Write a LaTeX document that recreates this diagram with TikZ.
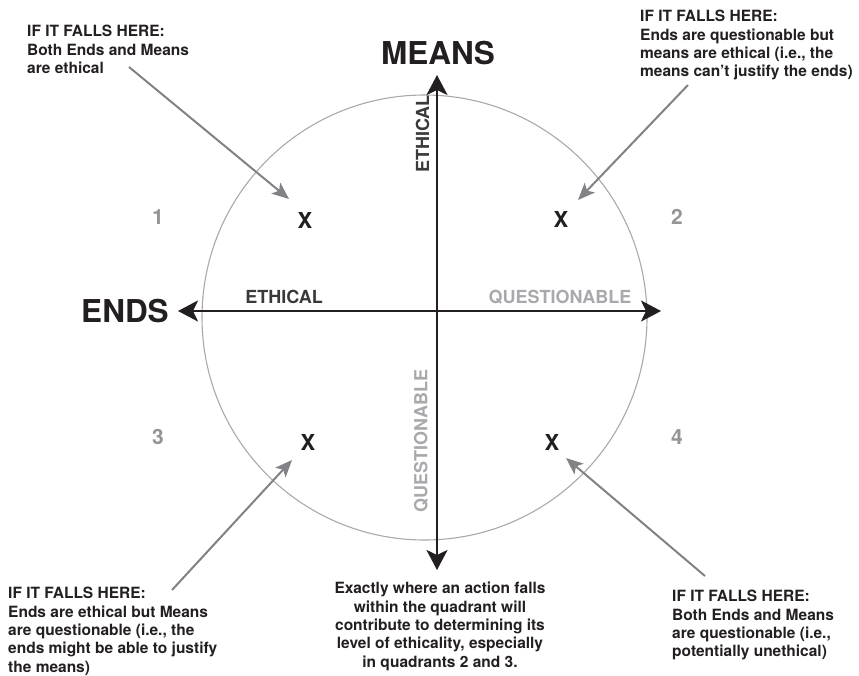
\documentclass[tikz,border=0pt]{standalone}
\usepackage{fontspec}
\setmainfont{TeX Gyre Heros}
\usetikzlibrary{arrows.meta}
\definecolor{ink}{HTML}{231F20}
\definecolor{darklab}{HTML}{3A3A3A}
\definecolor{lightlab}{HTML}{A7A9AC}
\definecolor{numgray}{HTML}{939598}
\definecolor{pointer}{HTML}{808285}
\definecolor{ring}{HTML}{A7A9AC}
\begin{document}
\begin{tikzpicture}[x=1pt,y=-1pt,
  note/.style={inner sep=0pt, text=ink, align=left, anchor=north west,
    font=\fontsize{15.5}{18.4}\selectfont\bfseries},
  axislab/.style={inner sep=0pt, font=\fontsize{18}{18}\selectfont\bfseries},
  biglab/.style={inner sep=0pt, text=ink, font=\fontsize{31.5}{31.5}\selectfont\bfseries},
  qnum/.style={inner sep=0pt, text=numgray, font=\fontsize{21}{21}\selectfont\bfseries},
  xmark/.style={inner sep=0pt, text=ink, font=\fontsize{22}{22}\selectfont\bfseries},
  axis/.style={line width=2.4pt, draw=ink, {Stealth[length=20pt,width=21pt,inset=5pt]}-{Stealth[length=20pt,width=21pt,inset=5pt]}},
  pointarrow/.style={line width=2pt, draw=pointer, -{Stealth[length=17pt,width=14pt,inset=4pt]}}]
\useasboundingbox (0,0) rectangle (859,675);
% circle
\draw[ring, line width=1.1pt] (424.5,317.5) circle (222.5);
% axes
\coordinate (top) at (437,75);
\coordinate (bot) at (437,570);
\coordinate (lft) at (178,311);
\coordinate (rgt) at (661,311);
\draw[axis] (bot) -- (top);
\draw[axis] (lft) -- (rgt);
% big labels
\node[biglab] (means) at (438,53) {MEANS};
\node[biglab] (ends) at (125,311.5) {ENDS};
% axis labels
\node[axislab, text=darklab] (eh) at (284,297) {ETHICAL};
\node[axislab, text=lightlab] (qh) at (560,297) {QUESTIONABLE};
\node[axislab, text=darklab, rotate=90] (ev) at (422.5,134) {ETHICAL};
\node[axislab, text=lightlab, rotate=90] (qv) at (421,441) {QUESTIONABLE};
% quadrant numbers
\node[qnum] (n1) at (158,217) {1};
\node[qnum] (n2) at (677,217) {2};
\node[qnum] (n3) at (158,437) {3};
\node[qnum] (n4) at (677,437) {4};
% X marks
\node[xmark] (x1) at (305,220) {X};
\node[xmark] (x2) at (561,219) {X};
\node[xmark] (x3) at (308,442) {X};
\node[xmark] (x4) at (552,442) {X};
% notes
\node[note] (t1) at (27,25) {IF IT FALLS HERE:\\Both Ends and Means\\are ethical};
\node[note] (t2) at (640,10) {IF IT FALLS HERE:\\Ends are questionable but\\means are ethical (i.e., the\\means can’t justify the ends)};
\node[note] (t3) at (8,587) {IF IT FALLS HERE:\\Ends are ethical but Means\\are questionable (i.e., the\\ends might be able to justify\\the means)};
\node[note, align=center, anchor=north] (t4) at (440,582) {Exactly where an action falls\\within the quadrant will\\contribute to determining its\\level of ethicality, especially\\in quadrants 2 and 3.};
\node[note] (t5) at (672,590) {IF IT FALLS HERE:\\Both Ends and Means\\are questionable (i.e.,\\potentially unethical)};
% pointer arrows
\coordinate (s1) at (129,67);  \coordinate (e1) at (289,199);
\coordinate (s2) at (688,85);  \coordinate (e2) at (578,200);
\coordinate (s3) at (172,590); \coordinate (e3) at (292,460);
\coordinate (s4) at (705,576); \coordinate (e4) at (566,458);
\draw[pointarrow] (s1) -- (e1);
\draw[pointarrow] (s2) -- (e2);
\draw[pointarrow] (s3) -- (e3);
\draw[pointarrow] (s4) -- (e4);
\end{tikzpicture}
\end{document}
